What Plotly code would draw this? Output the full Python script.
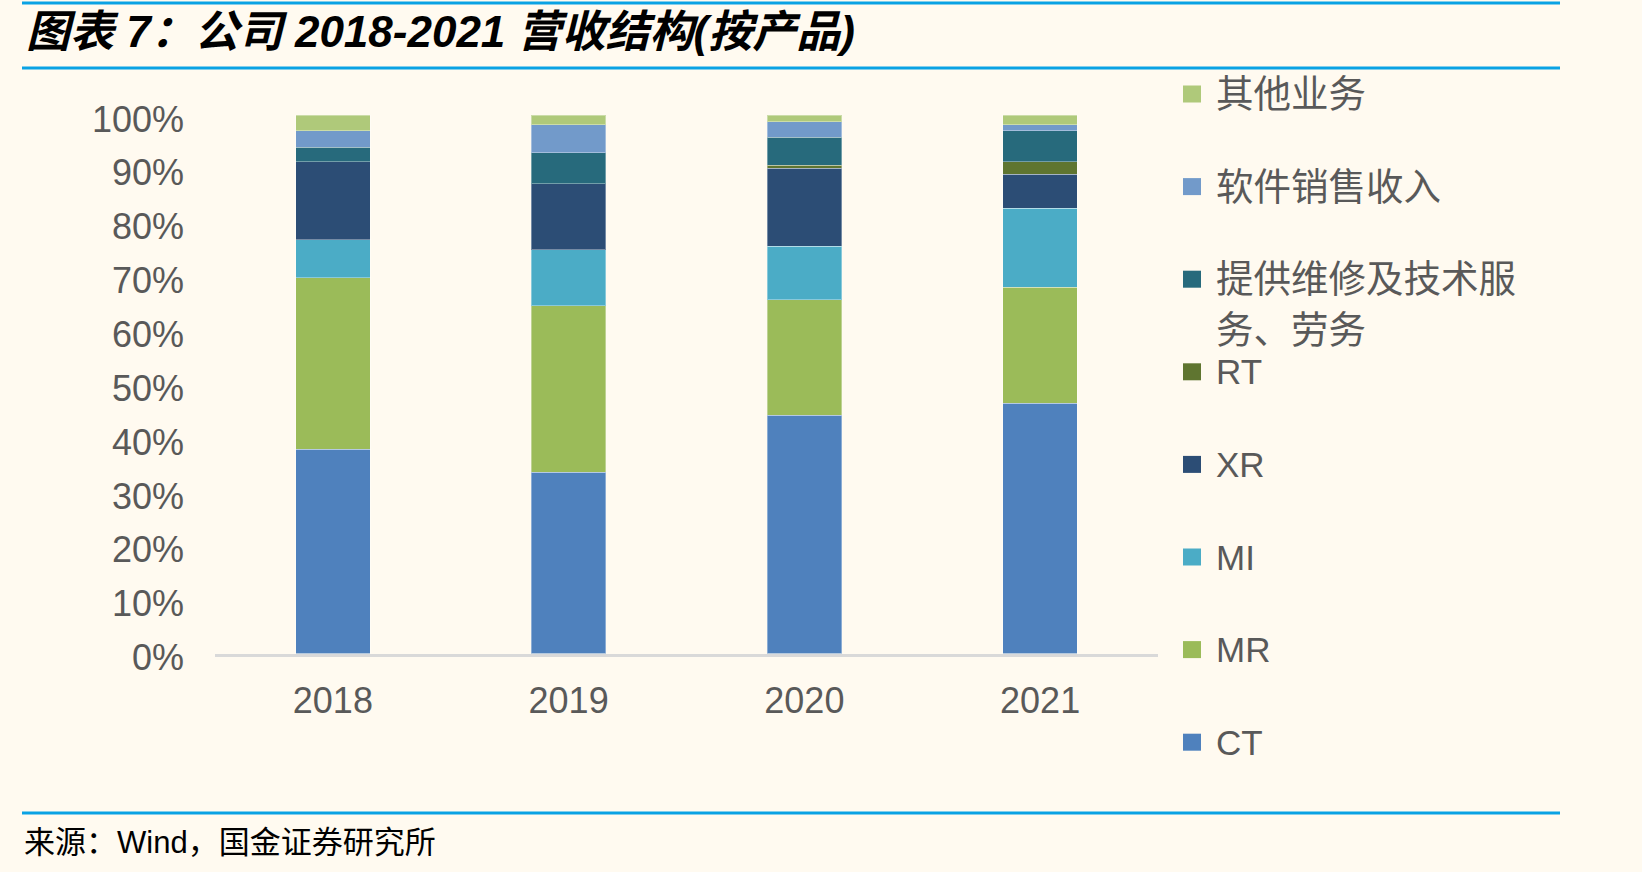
import plotly.graph_objects as go

W, H = 1642, 872

# ---------------- data (percent of revenue) ----------------
years = ["2018", "2019", "2020", "2021"]
series_names = ["CT", "MR", "MI", "XR", "RT",
                "提供维修及技术服务、劳务", "软件销售收入", "其他业务"]
ct = [37.9, 33.7, 44.2, 46.5]
mr = [31.9, 30.9, 21.5, 21.5]
mi = [7.0, 10.4, 9.95, 14.7]
xr = [14.5, 12.2, 14.45, 6.3]
rt = [0.0, 0.0, 0.55, 2.3]
maint = [2.75, 5.8, 5.25, 5.8]
software = [3.05, 5.2, 2.85, 1.1]
other = [2.9, 1.8, 1.25, 1.8]
y_tick_vals = [0, 10, 20, 30, 40, 50, 60, 70, 80, 90, 100]
y_tick_text = ["0%", "10%", "20%", "30%", "40%", "50%", "60%", "70%", "80%", "90%", "100%"]
legend_display = ["CT", "MR", "MI", "XR", "RT",
                  "提供维修及技术服<br>务、劳务", "软件销售收入", "其他业务"]

series_values = [ct, mr, mi, xr, rt, maint, software, other]

# ---------------- styles ----------------
colors = ["#4F81BD", "#9BBB59", "#4BACC6", "#2C4D75", "#5F7530",
          "#276A7C", "#729ACA", "#AFC97A"]
BG = "#FFFAF0"
BLUE = "#0AA2E4"
GRAY = "#595959"
LATIN = "Liberation Sans, Arial, Noto Sans CJK SC"

fig = go.Figure()
for name, vals, col in zip(series_names, series_values, colors):
    fig.add_trace(go.Bar(
        x=years, y=vals, name=name,
        marker=dict(color=col, line=dict(color="rgba(255,255,255,0.35)", width=1)),
        showlegend=False,
    ))

# plot area in pixels
x0_px, x1_px = 215, 1158
y_top_px, y_bot_px = 115, 653.5

def px_x(p):
    return p / W

def px_y(p):
    return 1 - p / H

shapes = []
annotations = []

# horizontal rule lines
for yy in (3, 68, 813):
    shapes.append(dict(type="line", xref="paper", yref="paper",
                       x0=px_x(22), x1=px_x(1560), y0=px_y(yy), y1=px_y(yy),
                       line=dict(color=BLUE, width=3)))

# title
annotations.append(dict(
    text="<b><i>图表 7：公司 2018-2021 营收结构(按产品)</i></b>",
    xref="paper", yref="paper", x=px_x(24), y=px_y(31),
    xanchor="left", yanchor="middle", showarrow=False,
    font=dict(family=LATIN, size=44, color="#000000")))

# source footer
annotations.append(dict(
    text="来源：Wind，国金证券研究所",
    xref="paper", yref="paper", x=px_x(22), y=px_y(842),
    xanchor="left", yanchor="middle", showarrow=False,
    font=dict(family=LATIN, size=31, color="#000000")))

# manual legend (top to bottom: reverse of stacking order)
leg_top, leg_step = 94, 92.6
for k, idx in enumerate(reversed(range(len(series_names)))):
    yc = leg_top + k * leg_step
    shapes.append(dict(type="rect", xref="paper", yref="paper",
                       x0=px_x(1183), x1=px_x(1201),
                       y0=px_y(yc - 8.5), y1=px_y(yc + 8.5),
                       fillcolor=colors[idx], line=dict(width=0)))
    lines = legend_display[idx].split("<br>")
    is_cjk = any(ord(c) > 0x2E80 for c in legend_display[idx])
    for j, ln in enumerate(lines):
        annotations.append(dict(
            text=ln, xref="paper", yref="paper",
            x=px_x(1214), y=px_y(yc + j * 50.5),
            xanchor="left", yanchor="middle", showarrow=False,
            font=dict(family=LATIN, size=37.5 if is_cjk else 35, color=GRAY)))

fig.update_layout(
    width=W, height=H,
    margin=dict(l=0, r=0, t=0, b=0, autoexpand=False),
    paper_bgcolor=BG, plot_bgcolor=BG,
    barmode="stack", bargap=0.683,
    showlegend=False,
    shapes=shapes, annotations=annotations,
    xaxis=dict(domain=[px_x(x0_px), px_x(x1_px)],
               showline=True, linecolor="#D9D9D9", linewidth=3,
               showgrid=False, zeroline=False, ticks="",
               ticklabelstandoff=13,
               tickfont=dict(family=LATIN, size=36, color=GRAY)),
    yaxis=dict(domain=[px_y(y_bot_px), px_y(y_top_px)],
               range=[0, 100], tickvals=y_tick_vals, ticktext=y_tick_text,
               showline=False, showgrid=False, zeroline=False, ticks="",
               ticklabelstandoff=30, ticklabelshift=4,
               tickfont=dict(family=LATIN, size=36, color=GRAY)),
)

fig.write_html("out.html")
